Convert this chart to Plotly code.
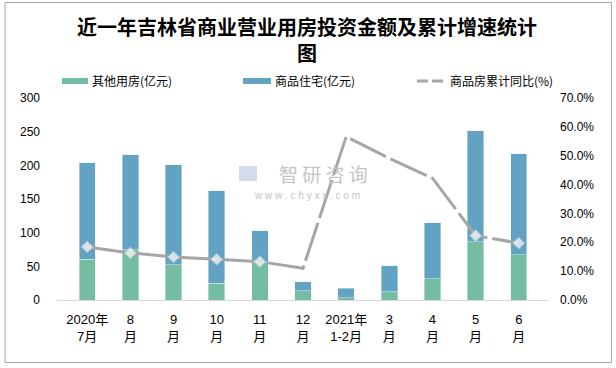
import plotly.graph_objects as go

categories = ["2020年7月", "8月", "9月", "10月", "11月", "12月", "2021年1-2月", "3月", "4月", "5月", "6月"]
tick_labels = ["2020年<br>7月", "8<br>月", "9<br>月", "10<br>月", "11<br>月", "12<br>月",
               "2021年<br>1-2月", "3<br>月", "4<br>月", "5<br>月", "6<br>月"]
other_use = [60.4, 74.3, 52.0, 24.8, 55.0, 13.4, 3.5, 12.4, 31.2, 86.7, 66.9]
residential = [143.1, 141.1, 148.6, 137.2, 47.5, 13.8, 14.3, 38.6, 83.2, 164.3, 150.1]
yoy_pct = [18.4, 16.3, 14.9, 14.1, 13.3, 11.0, 56.6, 49.1, 42.2, 22.3, 19.7]
marker_shown = [1, 1, 1, 1, 1, 0, 0, 0, 0, 1, 1]

title_text = "近一年吉林省商业营业用房投资金额及累计增速统计<br>图"
names = ["其他用房(亿元)", "商品住宅(亿元)", "商品房累计同比(%)"]
GREEN = "#74BCA2"
BLUE = "#62A3C3"
GRAY = "#A6A6A6"

fig = go.Figure()
fig.add_trace(go.Bar(x=categories, y=other_use, name=names[0], marker_color=GREEN,
                     width=0.38, showlegend=False))
fig.add_trace(go.Bar(x=categories, y=residential, name=names[1], marker_color=BLUE,
                     width=0.38, showlegend=False))
fig.add_trace(go.Scatter(
    x=categories, y=[v / 100 for v in yoy_pct], name=names[2], yaxis="y2",
    mode="lines+markers",
    line=dict(color=GRAY, width=3, dash="40px,5px"),
    marker=dict(symbol="diamond", size=[9 * m for m in marker_shown], color="white",
                line=dict(color="#D0D0D0", width=1)),
    showlegend=False))

L, R, T, B = 57, 67, 98, 68
PW, PH = 616 - L - R, 368 - T - B


def px(xp):
    return (xp - L) / PW


def py(yp):
    return (368 - B - yp) / PH


font_main = "Liberation Sans, Arial, Noto Sans CJK SC, sans-serif"

fig.update_layout(
    width=616, height=368,
    margin=dict(l=L, r=R, t=T, b=B, autoexpand=False),
    barmode="stack",
    plot_bgcolor="white", paper_bgcolor="white",
    font=dict(family=font_main, size=12, color="#000000"),
    xaxis=dict(tickmode="array", tickvals=categories, ticktext=tick_labels,
               tickfont=dict(size=13), showline=True, linecolor="#D9D9D9", linewidth=1,
               ticks="", showgrid=False, zeroline=False, automargin=False,
               ticklabelstandoff=7),
    yaxis=dict(range=[0, 300], dtick=50, showgrid=False, zeroline=False, showline=False,
               tickfont=dict(size=12), ticks="", ticklabelstandoff=16, automargin=False),
    yaxis2=dict(range=[0, 0.7], dtick=0.1, tickformat=".1%", overlaying="y", side="right",
                showgrid=False, zeroline=False, showline=False, tickfont=dict(size=12),
                ticks="", ticklabelstandoff=10, automargin=False),
)

shapes = []
annotations = []
# border
shapes.append(dict(type="rect", xref="paper", yref="paper", x0=px(5), x1=px(611.5),
                   y0=py(362.5), y1=py(2.5), line=dict(color=GRAY, width=1), layer="above"))
# title
annotations.append(dict(text=title_text, xref="paper", yref="paper", x=px(307), y=py(39.5),
                        xanchor="center", yanchor="middle", showarrow=False,
                        font=dict(size=20, family="Noto Sans CJK SC, sans-serif",
                                  color="#000000", weight="bold")))
# custom legend
legend_items = [
    (62, 88, 90, GREEN, "rect", names[0]),
    (243, 271, 273, BLUE, "rect", names[1]),
    (417, 445, 448, GRAY, "line", names[2]),
]
ly = 81
for x0, x1, tx, col, kind, label in legend_items:
    if kind == "rect":
        shapes.append(dict(type="rect", xref="paper", yref="paper", x0=px(x0), x1=px(x1),
                           y0=py(ly + 3), y1=py(ly - 3), fillcolor=col, line=dict(width=0)))
    else:
        shapes.append(dict(type="line", xref="paper", yref="paper", x0=px(x0), x1=px(x1),
                           y0=py(ly), y1=py(ly), line=dict(color=col, width=3, dash="11px,4px")))
    annotations.append(dict(text=label, xref="paper", yref="paper", x=px(tx), y=py(ly),
                            xanchor="left", yanchor="middle", showarrow=False,
                            font=dict(size=12, family="Noto Sans CJK SC, sans-serif")))
# watermark
annotations.append(dict(text="智 研 咨 询", xref="paper", yref="paper", x=px(323), y=py(173),
                        xanchor="center", yanchor="middle", showarrow=False,
                        font=dict(size=19, color="#C4C4C4", family="Noto Sans CJK SC, sans-serif")))
annotations.append(dict(text="w w w . c h y x x . c o m", xref="paper", yref="paper", x=px(307), y=py(195),
                        xanchor="center", yanchor="middle", showarrow=False,
                        font=dict(size=10, color="#C4C4C4", family="Liberation Sans, sans-serif")))
shapes.append(dict(type="rect", xref="paper", yref="paper", x0=px(239), x1=px(257),
                   y0=py(181), y1=py(166), fillcolor="#C9D3E6", line=dict(width=0), opacity=0.8))

fig.update_layout(shapes=shapes, annotations=annotations)
fig.write_html("out.html", config={"displayModeBar": False})

# remove the browser's default body margin so the figure sits at the page origin
with open("out.html", encoding="utf-8") as f:
    html = f.read()
html = html.replace("<body>", '<body style="margin:0;padding:0;overflow:hidden">', 1)
with open("out.html", "w", encoding="utf-8") as f:
    f.write(html)
